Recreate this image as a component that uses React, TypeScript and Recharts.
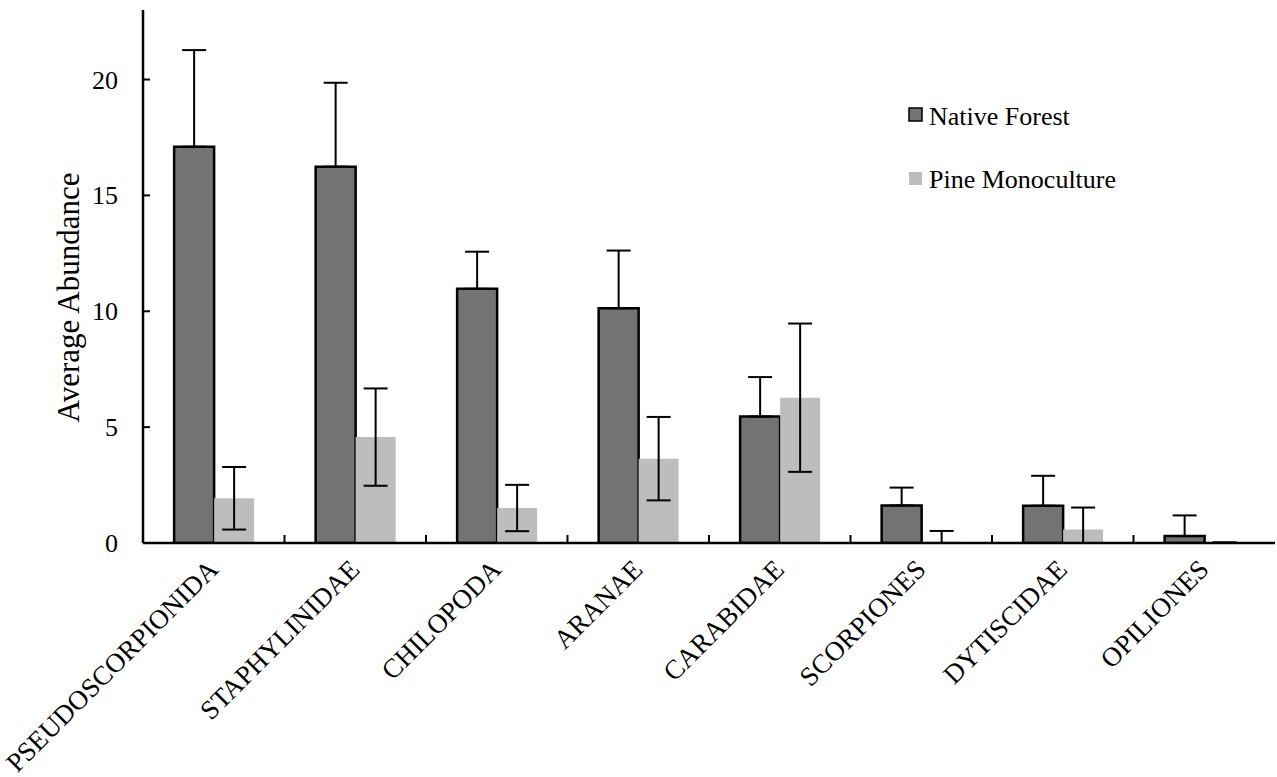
import React from 'react';
import { BarChart, Bar, XAxis, YAxis, ErrorBar, Legend } from 'recharts';

const categories = ['PSEUDOSCORPIONIDA', 'STAPHYLINIDAE', 'CHILOPODA', 'ARANAE', 'CARABIDAE', 'SCORPIONES', 'DYTISCIDAE', 'OPILIONES'];
const nativeForest = [17.1, 16.24, 10.97, 10.13, 5.46, 1.62, 1.61, 0.3];
const nativeForestErrUp = [4.17, 3.62, 1.6, 2.49, 1.7, 0.77, 1.29, 0.89];
const nativeForestErrDown = [0, 0, 0, 0, 0, 0, 0, 0];
const pineMonoculture = [1.93, 4.57, 1.51, 3.64, 6.27, 0.05, 0.58, 0.02];
const pineMonocultureErrUp = [1.35, 2.1, 1.0, 1.8, 3.2, 0.47, 0.95, 0];
const pineMonocultureErrDown = [1.35, 2.1, 1.0, 1.8, 3.2, 0.05, 0.58, 0];
const yTicks = [0, 5, 10, 15, 20];
const seriesNames = ['Native Forest', 'Pine Monoculture'];

const data = categories.map((c, i) => ({
  name: c,
  native: nativeForest[i],
  nativeErr: [nativeForestErrDown[i], nativeForestErrUp[i]],
  pine: pineMonoculture[i],
  pineErr: [pineMonocultureErrDown[i], pineMonocultureErrUp[i]],
}));

const FONT = '"Liberation Serif", "Times New Roman", serif';
const NATIVE_FILL = '#737373';
const PINE_FILL = '#bdbdbd';

const YTick = (props: any) => {
  const { x, y, payload } = props;
  return (
    <g>
      <line x1={x} x2={x + 7} y1={y} y2={y} stroke="#000" strokeWidth={2} />
      <text x={x - 25} y={y} dy="0.35em" textAnchor="end" fontFamily={FONT} fontSize={26} fill="#000">
        {payload.value}
      </text>
    </g>
  );
};

const XTick = (props: any) => {
  const { x, y, payload, index } = props;
  const half = payload && typeof payload.offset === 'number' ? payload.offset : 0;
  return (
    <g>
      {index > 0 && half > 0 ? (
        <line x1={x - half} x2={x - half} y1={y} y2={y - 8} stroke="#000" strokeWidth={2} />
      ) : null}
      <g transform={`translate(${x + 6}, ${y + 28}) rotate(-45)`}>
        <text x={0} y={0} textAnchor="end" fontFamily={FONT} fontSize={27} fill="#000">
          {payload.value}
        </text>
      </g>
    </g>
  );
};

const YLabel = (props: any) => {
  const vb = props.viewBox || { x: 0, y: 10, width: 143, height: 533 };
  const cx = vb.x + 68;
  const cy = vb.y + vb.height / 2 + 21;
  return (
    <text
      x={cx}
      y={cy}
      transform={`rotate(-90, ${cx}, ${cy})`}
      textAnchor="middle"
      dominantBaseline="central"
      fontFamily={FONT}
      fontSize={31}
      fill="#000"
    >
      Average Abundance
    </text>
  );
};

const renderLegend = () => (
  <svg width={280} height={110}>
    <rect x={4} y={8} width={13} height={13} fill={NATIVE_FILL} stroke="#000" strokeWidth={1.5} />
    <text x={24} y={25} fontFamily={FONT} fontSize={26} fill="#000">{seriesNames[0]}</text>
    <rect x={4} y={72} width={13} height={13} fill={PINE_FILL} />
    <text x={24} y={88} fontFamily={FONT} fontSize={26} fill="#000">{seriesNames[1]}</text>
  </svg>
);

export default function App() {
  return (
    <div style={{ position: 'absolute', left: 0, top: 0, width: 1277, height: 777, background: '#fff' }}>
      <BarChart
        width={1277}
        height={777}
        data={data}
        margin={{ top: 10, right: 2, left: 0, bottom: 4 }}
        barCategoryGap="22%"
        barGap={0}
      >
        <XAxis
          dataKey="name"
          interval={0}
          height={230}
          tickSize={0}
          tickMargin={0}
          tickLine={false}
          axisLine={{ stroke: '#000', strokeWidth: 2.5 }}
          tick={<XTick />}
        />
        <YAxis
          type="number"
          domain={[0, 23]}
          allowDataOverflow
          ticks={yTicks}
          width={143}
          tickSize={0}
          tickMargin={0}
          tickLine={false}
          axisLine={{ stroke: '#000', strokeWidth: 2.5 }}
          tick={<YTick />}
          label={<YLabel />}
        />
        <Legend
          layout="vertical"
          verticalAlign="middle"
          align="center"
          content={renderLegend}
          wrapperStyle={{ position: 'absolute', left: 905, top: 100, width: 280, height: 110 }}
        />
        <Bar dataKey="native" name={seriesNames[0]} fill={NATIVE_FILL} stroke="#000" strokeWidth={2.5} isAnimationActive={false}>
          <ErrorBar dataKey="nativeErr" width={12} stroke="#000" strokeWidth={2} direction="y" />
        </Bar>
        <Bar dataKey="pine" name={seriesNames[1]} fill={PINE_FILL} isAnimationActive={false}>
          <ErrorBar dataKey="pineErr" width={12} stroke="#000" strokeWidth={2} direction="y" />
        </Bar>
      </BarChart>
    </div>
  );
}
